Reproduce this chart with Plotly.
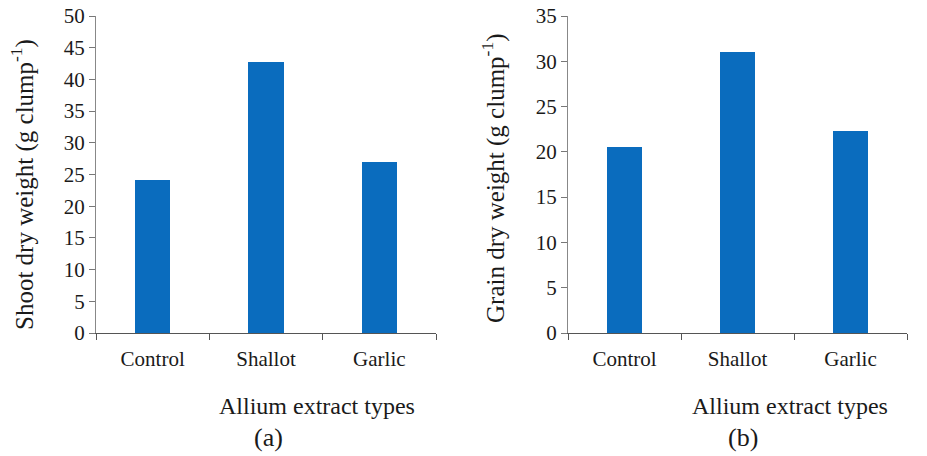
import plotly.graph_objects as go

# Allium extract treatments and measured dry weights (g clump^-1)
categories = ["Control", "Shallot", "Garlic"]
shoot_dry_weight = [24.1, 42.75, 26.9]
grain_dry_weight = [20.55, 31.0, 22.25]

shoot_ticks = list(range(0, 51, 5))
grain_ticks = list(range(0, 36, 5))

BAR_COLOR = "#0A6CBE"
FONT = "Liberation Serif, Times New Roman, serif"
TEXT = "#1a1a1a"

fig = go.Figure()
fig.add_trace(go.Bar(x=categories, y=shoot_dry_weight, width=0.31,
                     marker=dict(color=BAR_COLOR, line=dict(width=0)),
                     xaxis="x", yaxis="y", showlegend=False))
fig.add_trace(go.Bar(x=categories, y=grain_dry_weight, width=0.31,
                     marker=dict(color=BAR_COLOR, line=dict(width=0)),
                     xaxis="x2", yaxis="y2", showlegend=False))

W, H = 927, 456


def px_x(v):
    return v / W


def px_y(v):
    return 1 - v / H


ydom = [px_y(333), px_y(16)]

xcommon = dict(type="category", tickson="boundaries", ticks="outside", ticklen=6,
               tickcolor="#555", showline=True, linecolor="#555", linewidth=1,
               showgrid=False, zeroline=False, ticklabelstandoff=7, automargin=False,
               tickfont=dict(family=FONT, size=21, color=TEXT), fixedrange=True)
ycommon = dict(ticks="outside", ticklen=6, tickcolor="#777", showline=True,
               linecolor="#888", linewidth=1, showgrid=False, zeroline=False,
               automargin=False,
               tickfont=dict(family=FONT, size=21, color=TEXT), fixedrange=True)

fig.update_layout(
    width=W, height=H,
    margin=dict(l=0, r=0, t=0, b=0),
    paper_bgcolor="white", plot_bgcolor="white",
    bargap=0,
    xaxis=dict(domain=[px_x(96), px_x(436)], anchor="y", **xcommon),
    yaxis=dict(domain=ydom, anchor="x", range=[0, 50], tickvals=shoot_ticks, **ycommon),
    xaxis2=dict(domain=[px_x(568), px_x(907)], anchor="y2", **xcommon),
    yaxis2=dict(domain=ydom, anchor="x2", range=[0, 35], tickvals=grain_ticks, **ycommon),
)

annotations = [
    dict(text="Shoot dry weight (g clump<sup>-1</sup>)", x=px_x(22), y=px_y(185),
         textangle=-90, font=dict(size=25)),
    dict(text="Grain dry weight (g clump<sup>-1</sup>)", x=px_x(493), y=px_y(178),
         textangle=-90, font=dict(size=25)),
    dict(text="Allium extract types", x=px_x(317), y=px_y(406), font=dict(size=24)),
    dict(text="Allium extract types", x=px_x(790), y=px_y(406), font=dict(size=24)),
    dict(text="(a)", x=px_x(268), y=px_y(437), font=dict(size=26)),
    dict(text="(b)", x=px_x(743), y=px_y(437), font=dict(size=26)),
]
for a in annotations:
    a["font"].update(family=FONT, color=TEXT)
    fig.add_annotation(xref="paper", yref="paper", showarrow=False,
                       xanchor="center", yanchor="middle", **a)

fig.write_html("out.html")
